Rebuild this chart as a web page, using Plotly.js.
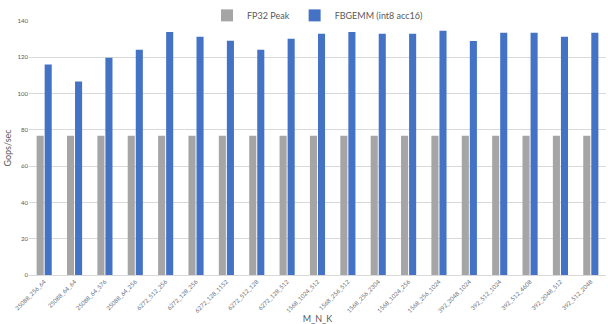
<!DOCTYPE html>
<html>
<head>
<meta charset="utf-8">
<script src="https://cdn.plot.ly/plotly-3.0.1.min.js"></script>
<style>
  html, body { margin: 0; padding: 0; background: #fff; }
  #plotly-div { width: 608px; height: 324px; }
</style>
</head>
<body>
<div id="plotly-div"></div>
<script>
// GEMM shapes (M_N_K) and measured throughput
var shapes = [
  '25088_256_64', '25088_64_64', '25088_64_576', '25088_64_256',
  '6272_512_256', '6272_128_256', '6272_128_1152', '6272_512_128', '6272_128_512',
  '1568_1024_512', '1568_256_512', '1568_256_2304', '1568_1024_256', '1568_256_1024',
  '392_2048_1024', '392_512_1024', '392_512_4608', '392_2048_512', '392_512_2048'
];

var fp32Peak = [76.8, 76.8, 76.8, 76.8, 76.8, 76.8, 76.8, 76.8, 76.8, 76.8,
                76.8, 76.8, 76.8, 76.8, 76.8, 76.8, 76.8, 76.8, 76.8];

var fbgemmInt8 = [116, 106.6, 119.8, 124.2, 134, 131.3, 129.1, 124.2, 130.2, 133,
                  134, 133, 133, 134.6, 129, 133.5, 133.5, 131.3, 133.5];

var yTicks = [0, 20, 40, 60, 80, 100, 120, 140];

var dataPlot = [
  {x: shapes, y: fp32Peak, type: 'bar', name: 'FP32 Peak',
   marker: {color: '#a5a5a5'}},
  {x: shapes, y: fbgemmInt8, type: 'bar', name: 'FBGEMM (int8 acc16)',
   marker: {color: '#4472c4'}}
];

var layout = {
  width: 608, height: 324,
  margin: {l: 29, r: 2, t: 20, b: 49},
  paper_bgcolor: '#fff', plot_bgcolor: '#fff',
  font: {family: 'Lato, "Open Sans", sans-serif', color: '#595959', size: 6},
  barmode: 'group',
  bargap: 0.47,
  bargroupgap: 0.12,
  showlegend: true,
  legend: {orientation: 'h', x: 0.5, xanchor: 'center', y: 1.075, yanchor: 'top',
           font: {size: 9, color: '#595959'}, itemwidth: 30, tracegroupgap: 0},
  xaxis: {
    tickangle: -45, tickfont: {size: 6, color: '#6a6f7a'},
    showline: true, linecolor: '#d9d9d9', linewidth: 1,
    ticks: '', automargin: false,
    title: {text: 'M_N_K', font: {size: 9, color: '#595959'}, standoff: 2}
  },
  yaxis: {
    range: [0, 140], tickvals: yTicks, ticktext: yTicks.map(String),
    showgrid: true, gridcolor: '#d9d9d9', gridwidth: 1,
    zeroline: false, showline: false, ticks: '',
    tickfont: {size: 6, color: '#595959'}, automargin: false,
    title: {text: 'Gops/sec', font: {size: 9, color: '#595959'}, standoff: 4}
  }
};

Plotly.newPlot('plotly-div', dataPlot, layout, {displayModeBar: false, staticPlot: true});
</script>
</body>
</html>
